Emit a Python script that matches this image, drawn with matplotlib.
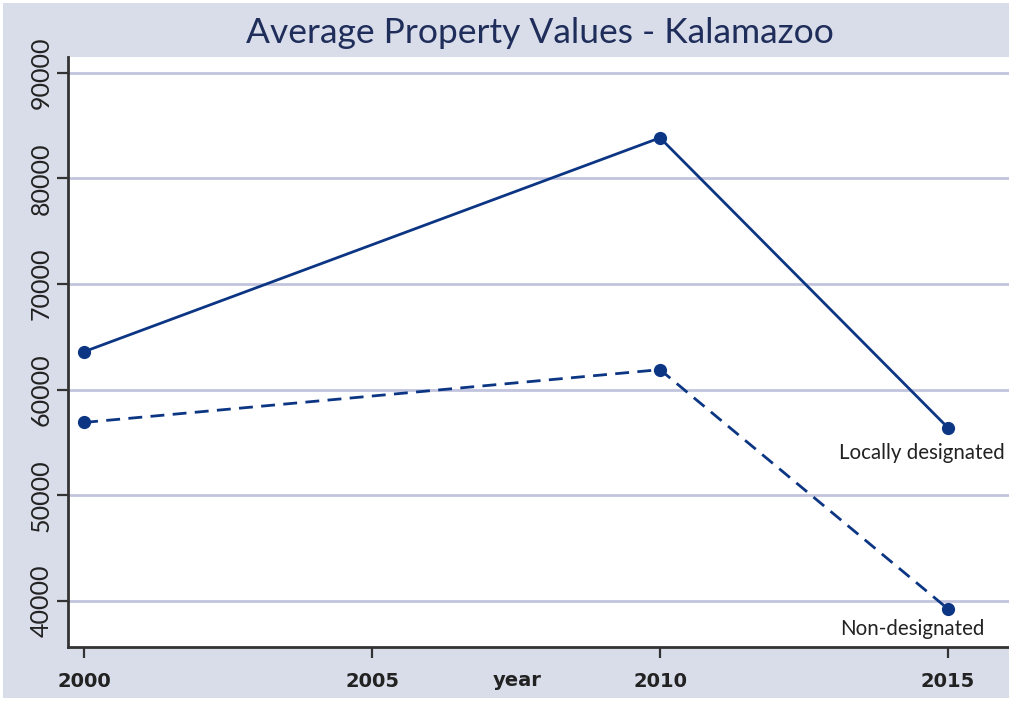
import matplotlib
matplotlib.use("Agg")
import matplotlib.pyplot as plt
from matplotlib.patches import Rectangle

years = [2000, 2010, 2015]
locally_designated = [63600, 83850, 56400]
non_designated = [56900, 61900, 39250]
x_ticks = [2000, 2005, 2010, 2015]
y_ticks = [40000, 50000, 60000, 70000, 80000, 90000]

bg = "#d9dde9"
navy = "#0c3683"
grid_c = "#c2c4de"

fig = plt.figure(figsize=(10.09, 7.01), dpi=100, facecolor="white")
W, H = 1009, 701
fig.patches.append(Rectangle((3 / W, 3 / H), 1 - 3 / W, 1 - 6 / H, transform=fig.transFigure,
                             facecolor=bg, edgecolor="none", zorder=-10))

ax = fig.add_axes([68 / W, 1 - 647 / H, 1 - 68 / W, (647 - 57) / H])
ax.set_facecolor("white")
ax.set_xlim(1999.72, 2016.06)
ax.set_ylim(35640, 91500)

ax.set_yticks(y_ticks)
ax.set_xticks(x_ticks)
ax.grid(axis="y", color=grid_c, linewidth=2)
ax.set_axisbelow(True)

ax.plot(years, locally_designated, color=navy, linewidth=2, marker="o", markersize=8.5, zorder=3)
ax.plot(years, non_designated, color=navy, linewidth=2, linestyle=(0, (5, 3)), marker="o",
        markersize=8.5, zorder=3)

for s in ["top", "right"]:
    ax.spines[s].set_visible(False)
for s in ["left", "bottom"]:
    ax.spines[s].set_color("#333333")
    ax.spines[s].set_linewidth(2)

ax.tick_params(axis="both", direction="out", length=8, width=1.6, color="#333333")
ax.set_xticklabels([str(v) for v in x_ticks], fontfamily="DejaVu Sans", fontweight="bold",
                   fontsize=14, color="#222222")
ax.set_yticklabels([str(v) for v in y_ticks], fontfamily="Lato", fontsize=18, color="#222222",
                   rotation=90, va="center")
ax.tick_params(axis="x", pad=10)
ax.tick_params(axis="y", pad=3)

ax.text(0.477, -0.057, "year", transform=ax.transAxes, ha="center", va="center",
        fontfamily="DejaVu Sans", fontweight="bold", fontsize=14, color="#222222")

ax.annotate("Locally designated", xy=(years[-1], locally_designated[-1]), xytext=(-18.5, -18),
            textcoords="offset points", ha="center", va="center", fontfamily="Lato",
            fontsize=14.8, color="#222222", annotation_clip=False)
ax.annotate("Non-designated", xy=(years[-1], non_designated[-1]), xytext=(-26, -14.5),
            textcoords="offset points", ha="center", va="center", fontfamily="Lato",
            fontsize=14.8, color="#222222", annotation_clip=False)

fig.text(540 / W, 1 - 33 / H, "Average Property Values - Kalamazoo", ha="center", va="center",
         fontfamily="Lato", fontsize=25.5, color="#1f2d5a")

fig.savefig("out.png", dpi=100, facecolor=fig.get_facecolor())
